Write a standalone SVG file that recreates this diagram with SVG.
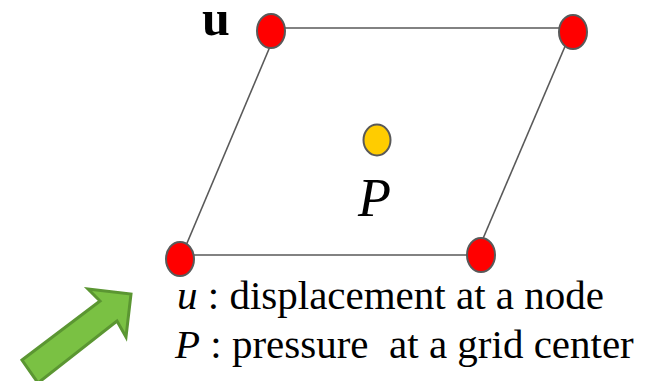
<svg xmlns="http://www.w3.org/2000/svg" width="645" height="381" viewBox="0 0 645 381">
<style>
.edge{stroke:#595959;stroke-width:1.6;fill:none}
.node{fill:#ff0000;stroke:#595959;stroke-width:2}
.center{fill:#ffcc00;stroke:#595959;stroke-width:2}
text{font-family:'Liberation Serif','Times New Roman',Times,serif;fill:#000;white-space:pre}
</style>
<rect width="645" height="381" fill="#fff"/>
<g id="connectors">
<line class="edge" x1="271" y1="28" x2="573" y2="28"/>
<line class="edge" x1="180" y1="255" x2="481" y2="255"/>
<line class="edge" x1="277" y1="30" x2="182" y2="255"/>
<line class="edge" x1="572" y1="30" x2="476" y2="255"/>
</g>
<g id="node-tl"><ellipse class="node" cx="271" cy="31" rx="14" ry="17"/></g>
<g id="node-tr"><ellipse class="node" cx="573" cy="32" rx="14" ry="17"/></g>
<g id="node-br"><ellipse class="node" cx="481" cy="255" rx="14" ry="17"/></g>
<g id="node-bl"><ellipse class="node" cx="180" cy="259" rx="14" ry="17"/></g>
<g id="node-p"><ellipse class="center" cx="377" cy="140" rx="13.5" ry="15.5"/></g>
<text x="202" y="35" font-size="50" font-weight="bold">u</text>
<text x="358" y="216" font-size="54" font-style="italic">P</text>
<text x="177" y="309" font-size="41" xml:space="preserve"><tspan font-style="italic">u</tspan> : displacement at a node</text>
<text x="175" y="358" font-size="41" xml:space="preserve"><tspan font-style="italic">P</tspan> : pressure  at a grid center</text>
<g id="arrow"><polygon points="22,360 100,301 88,289 131,294 126,337 117,321 38,383" fill="#7ac143" stroke="#5b9632" stroke-width="3" stroke-linejoin="miter"/></g>
</svg>
